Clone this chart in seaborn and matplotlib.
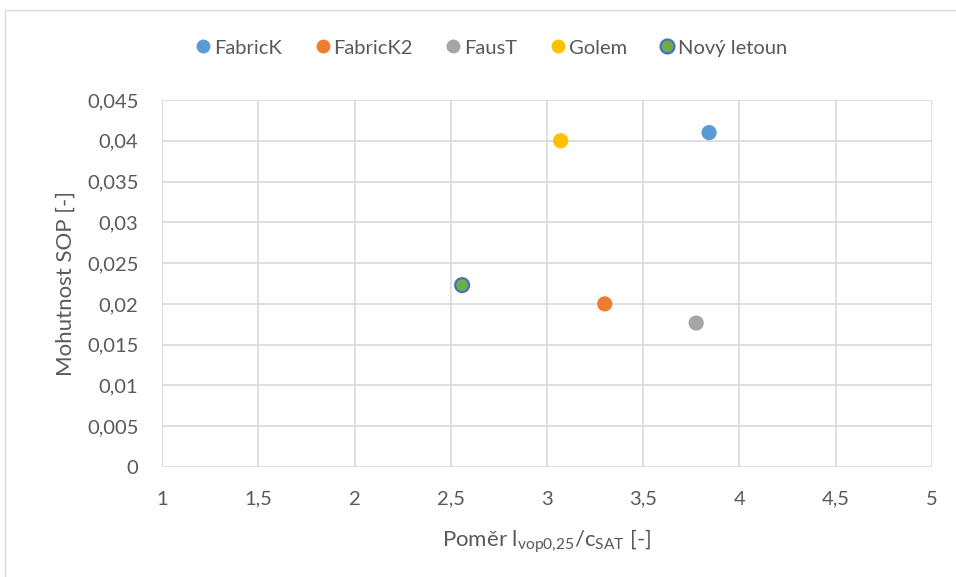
import matplotlib
matplotlib.use("Agg")
import matplotlib.pyplot as plt
from matplotlib.lines import Line2D
from matplotlib.patches import Rectangle
from matplotlib.ticker import FuncFormatter, MultipleLocator
import seaborn as sns
import pandas as pd

# Aircraft: tail arm ratio vs. horizontal tail volume coefficient
names = ["FabricK", "FabricK2", "FausT", "Golem", "Nový letoun"]
ratio = [3.842, 3.30, 3.775, 3.071, 2.559]
volume = [0.0410, 0.0200, 0.01765, 0.0400, 0.0223]
fill_colors = ["#5B9BD5", "#ED7D31", "#A5A5A5", "#FFC000", "#70AD47"]
edge_colors = ["#5B9BD5", "#ED7D31", "#A5A5A5", "#FFC000", "#4472C4"]
edge_widths = [0.0, 0.0, 0.0, 0.0, 1.6]
marker_sizes = [120, 120, 120, 120, 100]

df = pd.DataFrame({"name": names, "ratio": ratio, "volume": volume,
                   "size": marker_sizes})

sns.set_theme(style="white")
plt.rcParams["font.family"] = ["Lato", "DejaVu Sans"]
plt.rcParams["mathtext.fontset"] = "custom"
plt.rcParams["mathtext.rm"] = "Lato"
plt.rcParams["mathtext.it"] = "Lato:italic"
plt.rcParams["mathtext.bf"] = "Lato:bold"

text_color = "#595959"
grid_color = "#D9D9D9"

fig = plt.figure(figsize=(9.56, 5.77), dpi=100)
ax = fig.add_axes([162 / 956, 1 - 467 / 577, 770 / 956, 367 / 577])

# outer chart frame
fig.patches.append(Rectangle((5 / 956, -0.1), 1.1, 1 - 10 / 577 + 0.1,
                             transform=fig.transFigure, fill=False,
                             edgecolor=grid_color, linewidth=1.0))

sns.scatterplot(data=df, x="ratio", y="volume", hue="name",
                palette=dict(zip(names, fill_colors)),
                size="size", sizes=(min(marker_sizes), max(marker_sizes)),
                edgecolor=edge_colors, linewidth=edge_widths,
                legend=False, ax=ax, zorder=3, clip_on=False)

ax.set_xlim(1, 5)
ax.set_ylim(0, 0.045)
ax.xaxis.set_major_locator(MultipleLocator(0.5))
ax.yaxis.set_major_locator(MultipleLocator(0.005))

fmt = FuncFormatter(lambda v, _: f"{round(v, 4):g}".replace(".", ","))
ax.xaxis.set_major_formatter(fmt)
ax.yaxis.set_major_formatter(fmt)

ax.grid(True, color=grid_color, linewidth=1.2)
ax.set_axisbelow(True)
for sp in ax.spines.values():
    sp.set_visible(False)

ax.tick_params(axis="both", length=0, labelsize=14.5, labelcolor=text_color)
ax.tick_params(axis="y", pad=17)
ax.tick_params(axis="x", pad=17)

ax.set_xlabel(r"Poměr l$_{\mathrm{vop0{,}25}}$/c$_{\mathrm{SAT}}$ [-]",
              fontsize=16, color=text_color, labelpad=14)
ax.set_ylabel("Mohutnost SOP [-]", fontsize=16, color=text_color, labelpad=8)

handles = [Line2D([0], [0], marker="o", linestyle="none", markersize=10,
                  markerfacecolor=fc, markeredgecolor=ec,
                  markeredgewidth=(1.6 if ew > 0 else 0))
           for fc, ec, ew in zip(fill_colors, edge_colors, edge_widths)]
fig.legend(handles, names, loc="center", bbox_to_anchor=(0.513, 1 - 48 / 577),
           ncol=5, frameon=False, fontsize=14.5, labelcolor=text_color,
           handletextpad=0.05, columnspacing=1.5, handlelength=1.0)

fig.savefig("out.png", dpi=100)
